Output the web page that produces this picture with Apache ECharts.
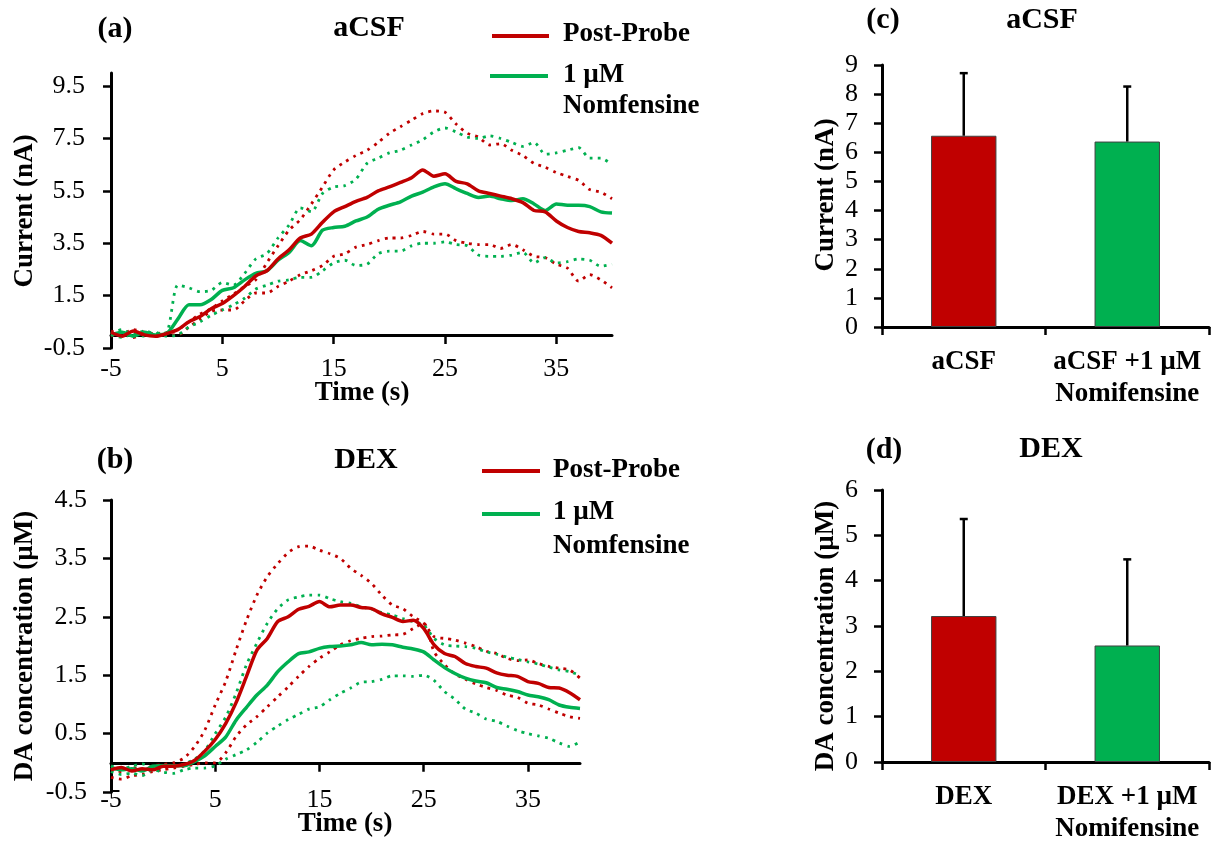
<!DOCTYPE html>
<html>
<head>
<meta charset="utf-8">
<script src="https://cdn.jsdelivr.net/npm/echarts@6/dist/echarts.min.js"></script>
<style>
html,body{margin:0;padding:0;background:#fff;}
#chart{width:1217px;height:845px;}
</style>
</head>
<body>
<div id="chart"></div>
<script>
// ---------- DATA ----------
const times = [-5,-4,-3,-2,-1,0,1,2,3,4,5,6,7,8,9,10,11,12,13,14,15,16,17,18,19,20,21,22,23,24,25,26,27,28,29,30,31,32,33,34,35,36,37,38,39,40];
const xTickValues = [-5, 5, 15, 25, 35];
const aYTickValues = [-0.5, 1.5, 3.5, 5.5, 7.5, 9.5];

// Panel (a) aCSF, current (nA)
const aPostProbeMean = [0.1,-0.05,0.15,0.0,-0.05,0.05, 0.2,0.5,0.7,1.0,1.2,1.5,1.85,2.25,2.45,2.9,3.25,3.7,3.85,4.3,4.7,4.9,5.1,5.25,5.5,5.65,5.82,6.0,6.3,6.06,6.15,5.86,5.77,5.5,5.4,5.3,5.2,5.05,4.75,4.7,4.35,4.1,3.95,3.9,3.8,3.5];
const aNomMean = [0.0,0.1,-0.05,0.1,0.0,0.05, 0.6,1.15,1.15,1.35,1.7,1.8,2.1,2.35,2.45,2.85,3.15,3.6,3.4,4.0,4.1,4.15,4.35,4.5,4.8,4.95,5.08,5.3,5.45,5.65,5.77,5.58,5.4,5.25,5.3,5.2,5.13,5.2,5.0,4.75,5.0,4.95,4.95,4.9,4.7,4.65];
const aPostProbeUpper = [0.15,0.05,0.2,0.1,0.05,0.1, 0.2,0.5,0.8,1.0,1.3,1.55,1.85,2.1,2.75,3.4,4.0,4.4,5.0,5.65,6.3,6.6,6.85,7.05,7.35,7.7,7.95,8.2,8.45,8.55,8.5,8.05,7.7,7.55,7.25,7.3,7.05,6.85,6.55,6.4,6.2,6.05,5.9,5.55,5.45,5.2];
const aNomUpper = [0.05,0.2,0.0,0.15,0.05,0.1, 1.9,1.8,1.65,1.7,2.0,1.9,2.35,2.9,3.1,3.7,4.2,4.85,4.7,5.4,5.65,5.7,5.95,6.55,6.75,6.95,7.05,7.25,7.45,7.75,7.9,7.75,7.55,7.5,7.6,7.5,7.35,7.2,7.35,6.9,6.95,7.05,7.15,6.75,6.75,6.5];
const aPostProbeLower = [-0.05,0.1,-0.1,0.05,-0.05,0.0, 0.0,0.3,0.6,0.9,0.95,0.95,1.3,1.6,1.6,1.85,2.05,2.3,2.45,2.65,3.0,3.1,3.35,3.45,3.6,3.7,3.7,3.8,3.95,3.85,3.85,3.6,3.5,3.45,3.45,3.3,3.45,3.25,3.0,2.95,2.7,2.55,2.05,2.3,2.1,1.8];
const aNomLower = [0.0,-0.1,0.05,-0.05,0.1,-0.05, 0.0,0.3,0.5,0.75,0.95,1.15,1.4,1.75,1.9,2.05,2.1,2.2,2.2,2.45,2.75,2.85,2.65,2.7,3.1,3.2,3.2,3.4,3.5,3.5,3.55,3.45,3.4,3.05,3.0,3.0,3.05,3.15,2.75,2.95,2.75,2.8,2.9,2.85,2.62,2.7];

// Panel (b) DEX, DA concentration (µM)
const bPostProbeMean = [-0.12,-0.08,-0.14,-0.1,-0.12,-0.06, -0.06,-0.03,0.04,0.2,0.4,0.67,1.03,1.48,1.93,2.13,2.42,2.5,2.63,2.68,2.76,2.67,2.7,2.7,2.66,2.64,2.55,2.49,2.42,2.44,2.3,2.02,1.87,1.82,1.7,1.65,1.62,1.54,1.5,1.48,1.39,1.36,1.29,1.28,1.2,1.08];
const bNomMean = [-0.08,-0.12,-0.1,-0.14,-0.06,-0.05, -0.05,-0.05,0.02,0.12,0.28,0.44,0.73,0.95,1.16,1.33,1.56,1.73,1.87,1.9,1.96,1.99,2.0,2.02,2.06,2.02,2.03,2.02,1.98,1.95,1.9,1.76,1.63,1.53,1.45,1.4,1.37,1.29,1.26,1.22,1.16,1.13,1.08,0.99,0.95,0.93];
const bPostProbeUpper = [-0.1,-0.15,-0.08,-0.12,-0.05,-0.03, 0.0,0.08,0.27,0.56,0.99,1.39,1.93,2.44,2.87,3.19,3.41,3.6,3.7,3.71,3.64,3.58,3.5,3.33,3.21,3.07,2.87,2.7,2.64,2.5,2.39,2.16,2.13,2.1,2.05,1.99,1.91,1.87,1.79,1.75,1.76,1.7,1.65,1.62,1.59,1.45];
const bNomUpper = [-0.05,-0.1,-0.06,-0.02,-0.08,-0.04, -0.06,-0.02,0.06,0.21,0.5,0.78,1.19,1.68,2.05,2.39,2.64,2.79,2.84,2.87,2.87,2.81,2.76,2.73,2.67,2.63,2.57,2.53,2.47,2.42,2.36,2.13,2.02,2.0,1.99,1.96,1.9,1.86,1.81,1.77,1.73,1.69,1.64,1.59,1.56,1.5];
const bPostProbeLower = [-0.25,-0.28,-0.22,-0.2,-0.15,-0.12, -0.09,-0.06,-0.03,0.0,0.0,0.17,0.45,0.65,0.79,0.96,1.13,1.3,1.48,1.65,1.79,1.9,2.02,2.09,2.13,2.16,2.17,2.19,2.2,2.3,2.39,1.9,1.68,1.52,1.43,1.35,1.29,1.24,1.16,1.12,1.02,0.99,0.92,0.85,0.79,0.76];
const bNomLower = [-0.15,-0.2,-0.18,-0.22,-0.12,-0.16, -0.18,-0.12,-0.09,-0.09,-0.05,0.06,0.14,0.22,0.35,0.51,0.63,0.74,0.83,0.92,0.96,1.08,1.19,1.28,1.38,1.39,1.43,1.49,1.49,1.48,1.5,1.41,1.22,1.09,0.92,0.85,0.75,0.71,0.63,0.55,0.5,0.46,0.42,0.34,0.28,0.36];

// Panel (c) aCSF bars
const cCategories = ['aCSF', 'aCSF +1 µM\nNomifensine'];
const cMeans = [6.57, 6.37];
const cErrors = [2.15, 1.89];
// Panel (d) DEX bars
const dCategories = ['DEX', 'DEX +1 µM\nNomifensine'];
const dMeans = [3.22, 2.57];
const dErrors = [2.14, 1.90];

const legendNames = ['Post-Probe', '1 µM', 'Nomfensine'];

// ---------- STYLE ----------
const RED = '#C00000', GREEN = '#00B050';
const FONT = '"Liberation Serif", "Times New Roman", serif';
const barColors = [RED, GREEN];

const axisLineStyle = {color: '#000', width: 3};
const tickStyle = {color: '#000', width: 2.5};

function pairs(arr) { return times.map((t, i) => [t, arr[i]]); }

function lineSeries(name, arr, color, dotted, idx) {
  return {
    name: name, type: 'line', xAxisIndex: idx, yAxisIndex: idx,
    data: pairs(arr), symbol: 'none', smooth: 0.25,
    lineStyle: dotted ? {color: color, width: 2.8, type: [2.8, 5.2]} : {color: color, width: 3.5},
    z: dotted ? 2 : 3, silent: true
  };
}

function timeXAxis(gi, margin) {
  return {
    gridIndex: gi, type: 'value', min: -5, max: 40, interval: 10,
    axisLine: {show: true, onZero: true, lineStyle: axisLineStyle},
    axisTick: {show: true, length: 9, lineStyle: tickStyle, customValues: xTickValues},
    axisLabel: {customValues: xTickValues, margin: margin, fontSize: 26, color: '#000', fontFamily: FONT},
    splitLine: {show: false}
  };
}

function errRender(params, api) {
  const x = api.value(0), m = api.value(1), e = api.value(2);
  const p0 = api.coord([x, m]);
  const p1 = api.coord([x, m + e]);
  return {
    type: 'group',
    children: [
      {type: 'line', shape: {x1: p0[0], y1: p0[1], x2: p1[0], y2: p1[1]}, style: {stroke: '#000', lineWidth: 2.5}},
      {type: 'line', shape: {x1: p1[0] - 4, y1: p1[1], x2: p1[0] + 4, y2: p1[1]}, style: {stroke: '#000', lineWidth: 2.5}}
    ]
  };
}

function barSeries(means, idx) {
  return {
    type: 'bar', xAxisIndex: idx, yAxisIndex: idx, barWidth: '40%',
    data: means.map((v, i) => ({value: v, itemStyle: {color: barColors[i], borderColor: '#404040', borderWidth: 1}})),
    silent: true
  };
}
function errSeries(means, errs, idx) {
  return {
    type: 'custom', xAxisIndex: idx, yAxisIndex: idx, renderItem: errRender,
    data: means.map((v, i) => [i, v, errs[i]]), z: 5, silent: true
  };
}

function catXAxis(gi, cats) {
  return {
    gridIndex: gi, type: 'category', data: cats,
    axisLine: {show: true, onZero: false, lineStyle: axisLineStyle},
    axisTick: {show: true, length: 8, alignWithLabel: false, lineStyle: tickStyle},
    axisLabel: {interval: 0, margin: 19, fontSize: 27, lineHeight: 32, fontWeight: 'bold', color: '#000', fontFamily: FONT}
  };
}
function valYAxis(gi, min, max, interval, margin, extra) {
  return Object.assign({
    gridIndex: gi, type: 'value', min: min, max: max, interval: interval,
    axisLine: {show: true, onZero: false, lineStyle: axisLineStyle},
    axisTick: {show: true, length: 8, lineStyle: tickStyle},
    axisLabel: {margin: margin, fontSize: 26, color: '#000', fontFamily: FONT},
    splitLine: {show: false}
  }, extra || {});
}

function txt(text, x, y, size, bold, rot, align) {
  return {
    type: 'text', x: x, y: y, rotation: rot || 0, silent: true,
    style: {text: text, font: (bold ? 'bold ' : '') + size + 'px ' + FONT, fill: '#000',
            textAlign: align || 'center', textVerticalAlign: 'middle'}
  };
}
function legLine(color, x1, x2, y) {
  return {type: 'line', silent: true, shape: {x1: x1, y1: y, x2: x2, y2: y}, style: {stroke: color, lineWidth: 4}};
}

const option = {
  animation: false,
  backgroundColor: '#fff',
  textStyle: {fontFamily: FONT},
  grid: [
    {left: 111, top: 73, width: 501, height: 275},
    {left: 111, top: 500, width: 469, height: 292},
    {left: 882, top: 65, width: 327, height: 262},
    {left: 882, top: 490, width: 327, height: 274}
  ],
  xAxis: [
    timeXAxis(0, 8),
    timeXAxis(1, -5),
    catXAxis(2, cCategories),
    catXAxis(3, dCategories)
  ],
  yAxis: [
    valYAxis(0, -0.5, 10, 2, 26, {
      axisTick: {show: true, length: 8, lineStyle: tickStyle, customValues: aYTickValues},
      axisLabel: {customValues: aYTickValues, margin: 26, fontSize: 26, color: '#000', fontFamily: FONT}
    }),
    valYAxis(1, -0.5, 4.5, 1, 24),
    valYAxis(2, 0, 9, 1, 24),
    valYAxis(3, 0, 6, 1, 24)
  ],
  series: [
    lineSeries('Post-Probe upper', aPostProbeUpper, RED, true, 0),
    lineSeries('Post-Probe lower', aPostProbeLower, RED, true, 0),
    lineSeries('Nomfensine upper', aNomUpper, GREEN, true, 0),
    lineSeries('Nomfensine lower', aNomLower, GREEN, true, 0),
    lineSeries('Nomfensine', aNomMean, GREEN, false, 0),
    lineSeries('Post-Probe', aPostProbeMean, RED, false, 0),

    lineSeries('Post-Probe upper', bPostProbeUpper, RED, true, 1),
    lineSeries('Post-Probe lower', bPostProbeLower, RED, true, 1),
    lineSeries('Nomfensine upper', bNomUpper, GREEN, true, 1),
    lineSeries('Nomfensine lower', bNomLower, GREEN, true, 1),
    lineSeries('Nomfensine', bNomMean, GREEN, false, 1),
    lineSeries('Post-Probe', bPostProbeMean, RED, false, 1),

    barSeries(cMeans, 2), errSeries(cMeans, cErrors, 2),
    barSeries(dMeans, 3), errSeries(dMeans, dErrors, 3)
  ],
  graphic: [
    // panel (a)
    txt('(a)', 115, 29, 30, true),
    txt('aCSF', 369, 28, 30, true),
    legLine(RED, 492, 549, 36),
    txt(legendNames[0], 563, 34, 27, true, 0, 'left'),
    legLine(GREEN, 490, 548, 76),
    txt(legendNames[1], 563, 75, 27, true, 0, 'left'),
    txt(legendNames[2], 563, 106, 27, true, 0, 'left'),
    txt('Current (nA)', 25, 211, 27, true, Math.PI / 2),
    txt('Time (s)', 362, 393, 27, true),
    // panel (b)
    txt('(b)', 115, 460, 30, true),
    txt('DEX', 366, 460, 30, true),
    legLine(RED, 482, 540, 471),
    txt(legendNames[0], 553, 470, 27, true, 0, 'left'),
    legLine(GREEN, 482, 540, 514),
    txt(legendNames[1], 553, 512, 27, true, 0, 'left'),
    txt(legendNames[2], 553, 546, 27, true, 0, 'left'),
    txt('DA concentration (µM)', 25, 646, 27, true, Math.PI / 2),
    txt('Time (s)', 345, 824, 27, true),
    // panel (c)
    txt('(c)', 883, 20, 30, true),
    txt('aCSF', 1042, 20, 30, true),
    txt('Current (nA)', 826, 195, 27, true, Math.PI / 2),
    // panel (d)
    txt('(d)', 884, 450, 30, true),
    txt('DEX', 1051, 449, 30, true),
    txt('DA concentration (µM)', 826, 636, 27, true, Math.PI / 2)
  ]
};

const chart = echarts.init(document.getElementById('chart'), null, {renderer: 'canvas'});
chart.setOption(option);
</script>
</body>
</html>
